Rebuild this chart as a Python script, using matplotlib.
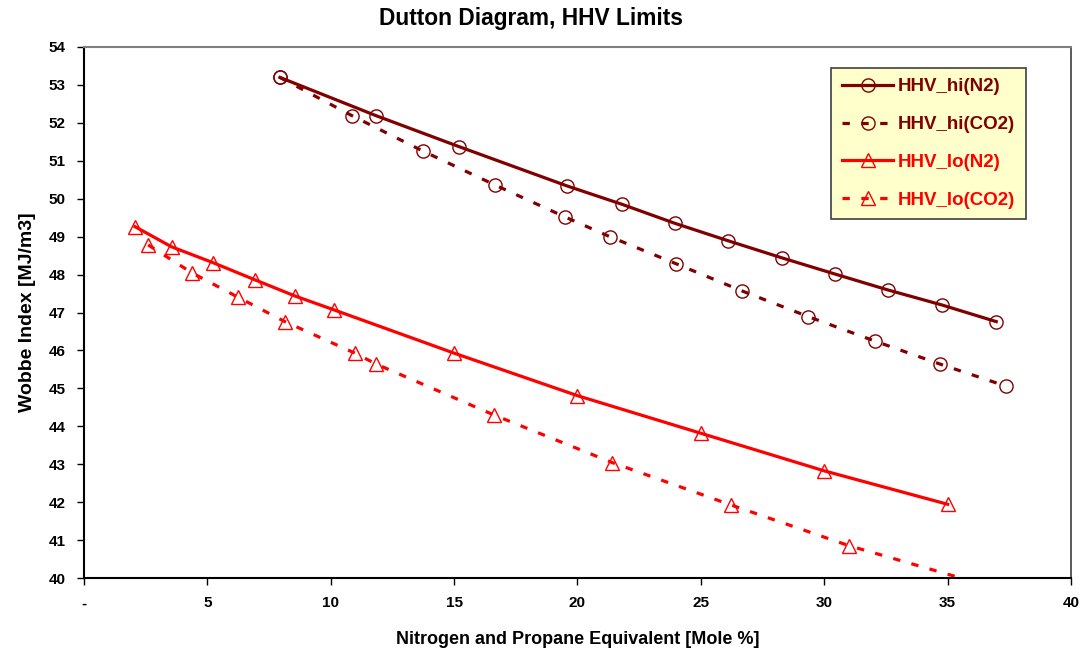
import matplotlib.pyplot as plt
import numpy as np

plt.rcParams['font.family'] = ['Liberation Sans', 'DejaVu Sans']
plt.rcParams['font.weight'] = 'bold'

# --- data ---
# HHV_hi (N2)
x_hi_n2 = [7.94, 11.85, 15.19, 19.59, 21.80, 23.94, 26.10, 28.28, 30.45, 32.60, 34.76, 36.97]
y_hi_n2 = [53.19, 52.18, 51.37, 50.33, 49.85, 49.35, 48.89, 48.44, 48.01, 47.59, 47.20, 46.76]

# HHV_hi (CO2)
x_hi_co2 = [7.94, 10.87, 13.74, 16.65, 19.48, 21.30, 24.01, 26.66, 29.36, 32.04, 34.70, 37.37]
y_hi_co2 = [53.19, 52.18, 51.25, 50.36, 49.52, 49.00, 48.28, 47.57, 46.89, 46.25, 45.64, 45.06]

# HHV_lo (N2)
x_lo_n2 = [2.07, 3.55, 5.24, 6.93, 8.57, 10.13, 15.0, 20.0, 25.0, 30.0, 35.0]
y_lo_n2 = [49.26, 48.73, 48.31, 47.86, 47.43, 47.07, 45.93, 44.81, 43.82, 42.83, 41.95]

# HHV_lo (CO2) - last point falls below the axis
x_lo_co2 = [2.60, 4.36, 6.25, 8.14, 10.98, 11.85, 16.62, 21.40, 26.23, 31.00, 35.90]
y_lo_co2 = [48.78, 48.05, 47.40, 46.76, 45.93, 45.64, 44.30, 43.05, 41.93, 40.86, 39.94]

x_ticks = [0, 5, 10, 15, 20, 25, 30, 35, 40]
x_ticklabels = ['-', '5', '10', '15', '20', '25', '30', '35', '40']
y_ticks = list(range(40, 55))

dark_red = '#800000'
red = '#FF0000'

fig = plt.figure(figsize=(10.85, 6.52), dpi=100)
ax = fig.add_axes([0.0774, 0.113, 0.9097, 0.8154])

ms = 9.5
ax.plot(x_hi_n2, y_hi_n2, '-', color=dark_red, lw=2.3, marker='o', ms=ms,
        mfc='none', mec=dark_red, mew=1.0, label='HHV_hi(N2)')
ax.plot(x_hi_co2, y_hi_co2, '--', color=dark_red, lw=2.3, dashes=(2.3, 3.6), marker='o', ms=ms,
        mfc='none', mec=dark_red, mew=1.0, label='HHV_hi(CO2)')
ax.plot(x_lo_n2, y_lo_n2, '-', color=red, lw=2.3, marker='^', ms=ms + 1,
        mfc='none', mec=red, mew=1.0, label='HHV_lo(N2)')
ax.plot(x_lo_co2, y_lo_co2, '--', color=red, lw=2.3, dashes=(2.3, 3.6), marker='^', ms=ms + 1,
        mfc='none', mec=red, mew=1.0, markevery=list(range(len(x_lo_co2) - 1)),
        label='HHV_lo(CO2)')

ax.set_xlim(0, 40)
ax.set_ylim(40, 54)
ax.set_xticks(x_ticks)
ax.set_xticklabels(x_ticklabels)
ax.set_yticks(y_ticks)
ax.tick_params(direction='out', length=5, width=1, labelsize=11, pad=8)
for lab in ax.get_xticklabels() + ax.get_yticklabels():
    lab.set_fontweight('bold')

ax.spines['left'].set_color('black')
ax.spines['bottom'].set_color('black')
ax.spines['left'].set_linewidth(1.5)
ax.spines['bottom'].set_linewidth(1.5)
ax.spines['top'].set_color('#808080')
ax.spines['top'].set_linewidth(1.5)
ax.spines['right'].set_color('#404040')
ax.spines['right'].set_linewidth(1.2)

ax.set_xlabel('Nitrogen and Propane Equivalent [Mole %]', fontsize=13, fontweight='bold', labelpad=15)
ax.set_ylabel('Wobbe Index [MJ/m3]', fontsize=14, fontweight='bold', labelpad=9)
fig.suptitle('Dutton Diagram, HHV Limits', x=0.489, y=0.99, fontsize=16.4, fontweight='bold')

leg = ax.legend(loc='upper right', bbox_to_anchor=(0.954, 0.96), borderaxespad=0, fontsize=13.5,
                frameon=True, fancybox=False, framealpha=1, handlelength=2.75,
                labelspacing=1.1, borderpad=0.55, handletextpad=0.25)
leg.get_frame().set_facecolor('#FFFFCC')
leg.get_frame().set_edgecolor('#404040')
leg.get_frame().set_linewidth(1.2)
for txt, col in zip(leg.get_texts(), [dark_red, dark_red, red, red]):
    txt.set_color(col)
    txt.set_fontweight('bold')

fig.savefig('out.png', dpi=100)
